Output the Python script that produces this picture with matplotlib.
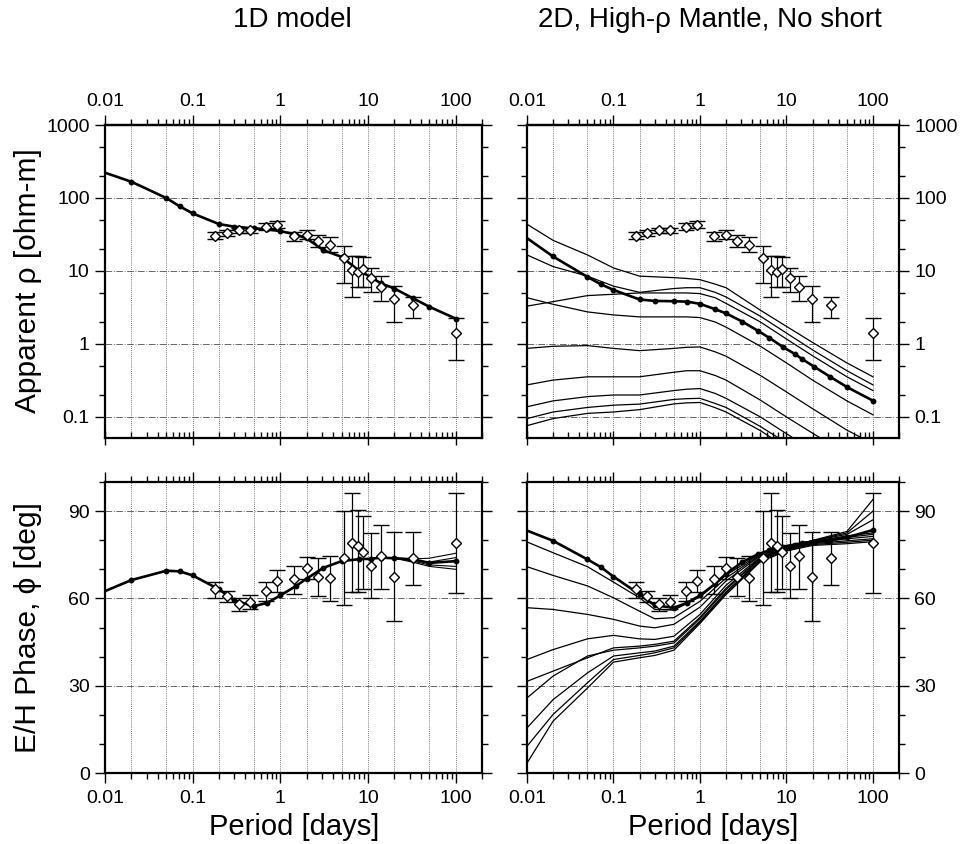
"""
Apparent resistivity and E/H phase: observed responses vs 1D and 2D models.
"""
import numpy as np
import matplotlib
matplotlib.use("Agg")
import matplotlib.pyplot as plt
from matplotlib.ticker import FixedLocator, LogLocator, MultipleLocator, NullFormatter, FuncFormatter

plt.rcParams["font.family"] = ["Liberation Sans", "DejaVu Sans"]

# ── Observed responses (same in both columns) ─────────────────────────────
obs_period = [0.18, 0.246, 0.34, 0.454, 0.686, 0.917, 1.45, 2.02, 2.69, 3.66,
              5.38, 6.65, 7.73, 8.8, 10.9, 14.1, 19.7, 32.8, 100]
obs_rho = [30, 33, 36, 36, 40, 43, 30, 31, 26, 23,
           15, 10.3, 9.7, 10.8, 7.9, 6.1, 4.1, 3.4, 1.4]
obs_rho_lo = [27, 30, 33, 33, 36, 39, 26, 27, 21, 18,
              6.8, 4.4, 6.0, 6.0, 5.2, 3.9, 2.0, 2.3, 0.6]
obs_rho_hi = [34, 36, 39, 39, 45, 49, 34, 36, 31, 29,
              22, 16, 16, 15.5, 11, 8.6, 6.3, 4.4, 2.3]
obs_phase = [63.4, 60.9, 58.0, 58.9, 62.6, 66.1, 66.7, 70.5, 67.5, 67.0,
             73.8, 79.0, 77.9, 75.9, 71.3, 74.5, 67.5, 73.8, 79.0]
obs_phase_lo = [60.3, 58.9, 55.5, 56.3, 59.2, 62.1, 61.5, 66.7, 60.9, 59.0,
                57.8, 62.3, 62.1, 63.4, 60.1, 63.4, 52.1, 64.7, 61.7]
obs_phase_hi = [65.7, 62.6, 60.3, 61.3, 65.7, 69.8, 71.3, 74.1, 73.8, 74.7,
                90.2, 96.2, 90.5, 88.2, 82.5, 85.3, 82.8, 82.8, 96.3]

# ── 1D model ──────────────────────────────────────────────────────────────
m1_period = [0.01, 0.02, 0.05, 0.071, 0.1, 0.2, 0.3, 0.5, 0.71, 1, 1.5, 2,
             3.1, 5, 8, 10.7, 14, 20, 33, 50, 100]
m1_rho = [222, 167, 100, 77, 61.5, 43.9, 40.4, 38.3, 37.2, 35.2, 31.6, 27.9,
          19.3, 15.6, 10.0, 8.3, 6.8, 5.75, 4.2, 3.24, 2.23]
m1_phase = [62.5, 66.3, 69.5, 69.3, 67.9, 63.1, 59.3, 57.3, 58.5, 61.0, 64.2, 66.8,
            70.5, 72.8, 73.5, 73.6, 74.0, 73.8, 73.4, 72.2, 72.8]
# spread of the 1D phase at the longest periods
m1_fan_period = [20, 33, 50, 100]
m1_fan_phase = [
    [73.8, 73.6, 73.8, 75.5],
    [73.8, 73.2, 72.5, 74.0],
    [73.8, 72.8, 71.5, 71.0],
    [73.8, 72.4, 71.0, 70.0],
]

# ── 2D model: highlighted site ────────────────────────────────────────────
m2_period = [0.01, 0.02, 0.05, 0.071, 0.1, 0.2, 0.3, 0.5, 0.71, 1, 1.5, 2,
             3.1, 4.7, 6.3, 9.2, 12.5, 15.2, 20.8, 31.8, 50.6, 100]
m2_rho = [28.2, 15.8, 8.3, 6.6, 5.5, 4.07, 3.89, 3.85, 3.8, 3.55, 2.99, 2.63,
          2.02, 1.51, 1.22, 0.90, 0.73, 0.62, 0.49, 0.357, 0.255, 0.167]
m2_phase = [83.3, 79.8, 73.4, 70.8, 67.5, 61.4, 57.6, 56.8, 58.5, 61.0, 65.0, 68.5,
            72.5, 75.2, 76.5, 77.8, 78.5, 79.0, 79.5, 80.0, 81.0, 83.5]

# ── 2D model: other sites ─────────────────────────────────────────────────
site_rho_period = [0.01, 0.02, 0.05, 0.1, 0.2, 0.5, 0.7, 1, 1.5, 2, 5, 10, 20, 50, 100]
site_rho = [
    [43.7, 26.3, 16.6, 11.0, 8.5, 8.1, 7.9, 7.6, 6.6, 5.9, 2.9, 1.74, 1.05, 0.55, 0.355],
    [16.6, 11.5, 8.5, 6.2, 5.1, 5.75, 5.9, 5.9, 5.1, 4.4, 2.4, 1.41, 0.83, 0.43, 0.275],
    [3.3, 3.8, 4.6, 4.8, 5.0, 5.0, 5.0, 4.9, 4.3, 3.6, 2.0, 1.17, 0.69, 0.355, 0.23],
    [4.3, 3.5, 2.75, 2.5, 2.35, 2.35, 2.35, 2.3, 2.0, 1.7, 0.93, 0.55, 0.32, 0.166, 0.107],
    [0.87, 0.93, 0.95, 0.87, 0.81, 0.87, 0.9, 0.91, 0.78, 0.68, 0.37, 0.22, 0.13, 0.066, 0.043],
    [0.275, 0.32, 0.355, 0.355, 0.355, 0.41, 0.43, 0.43, 0.37, 0.32, 0.17, 0.10, 0.06, 0.031, 0.02],
    [0.138, 0.166, 0.19, 0.2, 0.2, 0.23, 0.24, 0.245, 0.21, 0.18, 0.1, 0.059, 0.035, 0.018, 0.011],
    [0.095, 0.117, 0.135, 0.145, 0.15, 0.174, 0.178, 0.18, 0.153, 0.135, 0.074, 0.044, 0.026, 0.013, 0.008],
    [0.076, 0.095, 0.112, 0.117, 0.126, 0.151, 0.156, 0.158, 0.134, 0.117, 0.065, 0.038, 0.022, 0.011, 0.007],
]
site_phase_period = [0.01, 0.02, 0.05, 0.1, 0.2, 0.3, 0.5, 1, 2, 5, 10, 20, 50, 100]
site_phase = [
    [79.4, 75.7, 70.9, 65.6, 60.2, 56.2, 56.0, 60.5, 68.0, 75.3, 78.0, 79.8, 82.0, 87.0],
    [70.9, 67.9, 64.3, 60.2, 55.6, 53.0, 53.4, 59.0, 67.0, 75.0, 77.8, 79.8, 82.5, 90.0],
    [56.8, 56.2, 54.5, 52.8, 50.5, 49.9, 51.1, 57.0, 66.0, 74.7, 77.6, 79.9, 83.0, 94.0],
    [39.0, 42.4, 46.1, 47.3, 46.1, 45.9, 47.0, 54.5, 64.5, 74.3, 77.4, 79.5, 81.5, 82.5],
    [31.5, 35.0, 39.6, 43.0, 43.6, 44.2, 45.3, 53.5, 63.5, 74.0, 77.2, 79.2, 81.0, 82.0],
    [25.8, 33.3, 40.2, 42.2, 43.0, 43.6, 44.7, 53.0, 63.0, 73.8, 77.0, 79.0, 80.5, 81.3],
    [15.5, 25.2, 34.4, 40.2, 41.3, 41.9, 43.6, 52.2, 62.2, 73.4, 76.8, 78.8, 79.8, 80.5],
    [9.2, 20.1, 31.0, 39.0, 40.4, 41.3, 43.0, 51.8, 61.8, 73.0, 76.5, 78.5, 79.3, 80.0],
    [3.4, 17.8, 29.2, 38.1, 39.6, 40.4, 42.2, 51.4, 61.3, 72.6, 76.3, 78.2, 78.8, 79.5],
]

period_ticks = [0.01, 0.1, 1, 10, 100]
period_grid = [0.02, 0.05, 0.1, 0.2, 0.5, 1, 2, 5, 10, 20, 50, 100]
rho_ticks = [0.1, 1, 10, 100, 1000]
phase_ticks = [0, 30, 60, 90]

W, H = 962, 844
GRID_C = "0.3"
TICK_FS = 14


def rect(x0, y0, x1, y1):
    return [x0 / W, 1 - y1 / H, (x1 - x0) / W, (y1 - y0) / H]


def fmt(v, pos):
    return f"{v:g}"


def frame(ax, kind, side):
    ax.set_xscale("log")
    ax.set_xlim(0.01, 200)
    for s in ax.spines.values():
        s.set_linewidth(1.6)
    for v in period_grid:
        ax.axvline(v, color=GRID_C, lw=0.6, ls=(0, (1, 1.5)), zorder=0)

    if kind == "rho":
        ax.set_yscale("log")
        ax.set_ylim(0.0515, 1000)
        ax.yaxis.set_major_locator(FixedLocator(rho_ticks))
        ax.yaxis.set_minor_locator(LogLocator(base=10, subs=(2, 5)))
        grid_y = rho_ticks[:-1]
    else:
        ax.set_ylim(0, 100)
        ax.yaxis.set_major_locator(FixedLocator(phase_ticks))
        ax.yaxis.set_minor_locator(MultipleLocator(10))
        grid_y = phase_ticks[1:]
    for v in grid_y:
        ax.axhline(v, color=GRID_C, lw=0.6, ls=(0, (8, 2, 1, 2)), zorder=0)
    ax.yaxis.set_major_formatter(FuncFormatter(fmt))
    ax.yaxis.set_minor_formatter(NullFormatter())
    ax.tick_params(axis="y", which="both", direction="out", left=True, right=True,
                   labelleft=(side == "left"), labelright=(side == "right"),
                   labelsize=TICK_FS, width=1.0, pad=4)
    ax.tick_params(axis="y", which="major", length=7)
    ax.tick_params(axis="y", which="minor", length=4)

    ax.xaxis.set_major_locator(FixedLocator(period_ticks))
    ax.xaxis.set_minor_locator(LogLocator(base=10, subs=np.arange(2, 10)))
    ax.xaxis.set_minor_formatter(NullFormatter())
    ax.xaxis.set_major_formatter(FuncFormatter(fmt))

    if kind == "rho":
        # labelled ticks on top, ticks without labels along the bottom
        ax.tick_params(axis="x", which="both", bottom=True, top=False,
                       labelbottom=False, width=1.0)
        ax.tick_params(axis="x", which="major", direction="inout", length=10)
        ax.tick_params(axis="x", which="minor", direction="in", length=4)
        sec = ax.secondary_xaxis("top")
        sec.xaxis.set_major_locator(FixedLocator(period_ticks))
        sec.xaxis.set_minor_locator(LogLocator(base=10, subs=np.arange(2, 10)))
        sec.xaxis.set_major_formatter(FuncFormatter(fmt))
        sec.xaxis.set_minor_formatter(NullFormatter())
        sec.tick_params(axis="x", which="both", direction="out", labelsize=TICK_FS,
                        width=1.0, pad=4)
        sec.tick_params(axis="x", which="major", length=7)
        sec.tick_params(axis="x", which="minor", length=4)
        sec.spines["top"].set_linewidth(1.6)
    else:
        ax.tick_params(axis="x", which="both", direction="out", bottom=True, top=True,
                       labelbottom=True, labeltop=False, labelsize=TICK_FS,
                       width=1.0, pad=5)
        ax.tick_params(axis="x", which="major", length=7)
        ax.tick_params(axis="x", which="minor", length=4)


def draw_obs(ax, values, lo, hi):
    v = np.array(values)
    err = [v - np.array(lo), np.array(hi) - v]
    ax.errorbar(obs_period, v, yerr=err, fmt="D", ms=5.5, mfc="white", mec="black",
                mew=1.0, ecolor="black", elinewidth=0.9, capsize=5.5, capthick=0.9,
                zorder=5)


def draw_model(ax, period, values):
    ax.plot(period, values, color="black", lw=1.9, zorder=4)
    ax.plot(period[1:], values[1:], "o", color="black", ms=3.2, zorder=4)


fig = plt.figure(figsize=(9.62, 8.44), dpi=100)
ax_tl = fig.add_axes(rect(105, 125, 482, 438))
ax_bl = fig.add_axes(rect(105, 482, 482, 773))
ax_tr = fig.add_axes(rect(527, 125, 899, 438))
ax_br = fig.add_axes(rect(527, 482, 899, 773))

frame(ax_tl, "rho", "left")
frame(ax_bl, "phase", "left")
frame(ax_tr, "rho", "right")
frame(ax_br, "phase", "right")

# 1D column
draw_model(ax_tl, m1_period, m1_rho)
draw_obs(ax_tl, obs_rho, obs_rho_lo, obs_rho_hi)
for fan in m1_fan_phase:
    ax_bl.plot(m1_fan_period, fan, color="black", lw=0.8, zorder=3)
draw_model(ax_bl, m1_period, m1_phase)
draw_obs(ax_bl, obs_phase, obs_phase_lo, obs_phase_hi)

# 2D column
for line in site_rho:
    ax_tr.plot(site_rho_period, line, color="black", lw=0.9, zorder=3)
draw_model(ax_tr, m2_period, m2_rho)
draw_obs(ax_tr, obs_rho, obs_rho_lo, obs_rho_hi)
for line in site_phase:
    ax_br.plot(site_phase_period, line, color="black", lw=0.9, zorder=3)
draw_model(ax_br, m2_period, m2_phase)
draw_obs(ax_br, obs_phase, obs_phase_lo, obs_phase_hi)

# titles and axis labels
fig.text(292 / W, 1 - 20 / H, "1D model", ha="center", va="center", fontsize=20)
fig.text(710 / W, 1 - 20 / H, "2D, High-ρ Mantle, No short", ha="center", va="center",
         fontsize=20)
fig.text(28 / W, 1 - 281 / H, "Apparent ρ [ohm-m]", rotation=90, ha="center",
         va="center", fontsize=21.5)
fig.text(28 / W, 1 - 628 / H, "E/H Phase, ϕ [deg]", rotation=90, ha="center",
         va="center", fontsize=21.5)
fig.text(294 / W, 1 - 827 / H, "Period [days]", ha="center", va="center", fontsize=21)
fig.text(713 / W, 1 - 827 / H, "Period [days]", ha="center", va="center", fontsize=21)

fig.savefig("out.png", dpi=100)
plt.close(fig)
